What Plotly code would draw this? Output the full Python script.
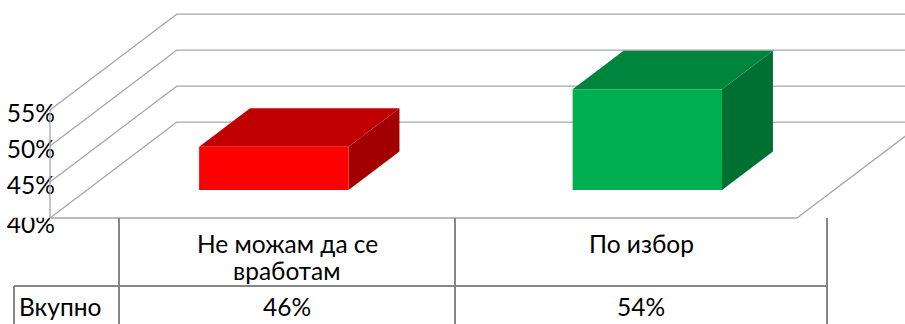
import plotly.graph_objects as go

# --- data -------------------------------------------------------------
categories = ["Не можам да се<br>вработам", "По избор"]
values = [46, 54]                      # percent
value_labels = ["46%", "54%"]
row_label = "Вкупно"
tick_values = [40, 45, 50, 55]
tick_labels = ["40%", "45%", "50%", "55%"]

# --- styling / geometry ----------------------------------------------
W, H = 905, 324
FONT = "Lato"
FSIZE = 24.5
FRONT = ["#FF0000", "#00B050"]
TOP = ["#C00000", "#00853D"]
SIDE = ["#A20000", "#007032"]
GRID = "#A6A6A6"
TABLE = "#868686"

Y_BASE = 40.0          # floor value of the value axis
DX, DY = 0.34, 13.33   # oblique offset of the full depth (x in categories, y in %)
T0, T1 = 0.292, 0.693  # depth slice occupied by the columns
HALF_W = 0.2           # half column width in category units
LABEL_NUDGE = [-1.3, -0.85, -0.85, -0.85]  # vertical nudge of the axis labels
LINE_GAP = 27          # px between wrapped header lines

X_RANGE = [-0.13387, 2.28916]
Y_RANGE = [25.278, 70.278]

fig = go.Figure()


def poly(xs, ys, color):
    fig.add_trace(go.Scatter(
        x=list(xs) + [xs[0]], y=list(ys) + [ys[0]], mode="lines",
        fill="toself", fillcolor=color, line=dict(width=0, color=color),
        hoverinfo="skip", showlegend=False))


def seg(x0, y0, x1, y1, color=GRID, width=1.3):
    fig.add_trace(go.Scatter(
        x=[x0, x1], y=[y0, y1], mode="lines",
        line=dict(color=color, width=width),
        hoverinfo="skip", showlegend=False))


# value axis labels
fig.add_trace(go.Scatter(
    x=[0.013] * len(tick_values),
    y=[v + d for v, d in zip(tick_values, LABEL_NUDGE)],
    mode="text", text=tick_labels, textposition="middle left",
    textfont=dict(family=FONT, size=FSIZE, color="#000000"),
    cliponaxis=False, hoverinfo="skip", showlegend=False))

# the plot area clips the bottom label along the floor edge
poly([X_RANGE[0], 0.013, 0.013, X_RANGE[0]],
     [Y_BASE + 0.05, Y_BASE + 0.05, 43.0, 43.0], "#FFFFFF")

# walls: gridlines on the back wall and their diagonals on the side wall
n_cat = len(categories)
for v in tick_values:
    seg(0, v, DX, v + DY)
    seg(DX, v + DY, X_RANGE[1] + 0.1, v + DY)
seg(0, Y_BASE, 0, tick_values[-1])                       # front value axis
seg(0, Y_BASE, n_cat, Y_BASE)                            # floor front edge
seg(n_cat, Y_BASE, n_cat + DX, Y_BASE + DY)              # floor right edge

# 3-D columns
for i, v in enumerate(values):
    c = i + 0.5
    xl, xr = c - HALF_W, c + HALF_W
    ax0, ay0 = T0 * DX, T0 * DY
    ax1, ay1 = T1 * DX, T1 * DY
    # right side
    poly([xr + ax0, xr + ax1, xr + ax1, xr + ax0],
         [Y_BASE + ay0, Y_BASE + ay1, v + ay1, v + ay0], SIDE[i])
    # top
    poly([xl + ax0, xr + ax0, xr + ax1, xl + ax1],
         [v + ay0, v + ay0, v + ay1, v + ay1], TOP[i])
    # front
    poly([xl + ax0, xr + ax0, xr + ax0, xl + ax0],
         [Y_BASE + ay0, Y_BASE + ay0, v + ay0, v + ay0], FRONT[i])

# --- data table under the chart (pixel layout -> paper coords) ------
def px(x):
    return x / W


def py(y):
    return 1 - y / H


col_edges = [119, 455, 827]
row_top, row_mid, row_bot = 218, 286, 330
shapes = []
for xe in col_edges:
    shapes.append(dict(type="line", xref="paper", yref="paper",
                       x0=px(xe), x1=px(xe), y0=py(row_top), y1=py(row_bot),
                       line=dict(color=TABLE, width=2)))
shapes.append(dict(type="line", xref="paper", yref="paper",
                   x0=px(14), x1=px(14), y0=py(row_mid), y1=py(row_bot),
                   line=dict(color=TABLE, width=2)))
shapes.append(dict(type="line", xref="paper", yref="paper",
                   x0=px(14), x1=px(col_edges[-1]), y0=py(row_mid), y1=py(row_mid),
                   line=dict(color=TABLE, width=2)))

annotations = []
for i, (cat, lab) in enumerate(zip(categories, value_labels)):
    cx = (col_edges[i] + col_edges[i + 1]) / 2
    for k, line in enumerate(cat.split("<br>")):
        annotations.append(dict(
            xref="paper", yref="paper", x=px(cx), y=py(243 + k * LINE_GAP),
            xanchor="center", yanchor="middle", text=line, showarrow=False,
            font=dict(family=FONT, size=FSIZE, color="#000000")))
    annotations.append(dict(
        xref="paper", yref="paper", x=px(cx), y=py(306), xanchor="center",
        yanchor="middle", text=lab, showarrow=False,
        font=dict(family=FONT, size=FSIZE, color="#000000")))
annotations.append(dict(
    xref="paper", yref="paper", x=px(17), y=py(306), xanchor="left",
    yanchor="middle", text=row_label, showarrow=False,
    font=dict(family=FONT, size=FSIZE, color="#000000")))

fig.update_layout(
    width=W, height=H, autosize=False,
    margin=dict(l=0, r=0, t=0, b=0, pad=0),
    paper_bgcolor="#FFFFFF", plot_bgcolor="#FFFFFF",
    xaxis=dict(range=X_RANGE, visible=False, fixedrange=True),
    yaxis=dict(range=Y_RANGE, visible=False, fixedrange=True),
    shapes=shapes, annotations=annotations,
    showlegend=False,
)

fig.write_html("out.html", config={"displayModeBar": False})
